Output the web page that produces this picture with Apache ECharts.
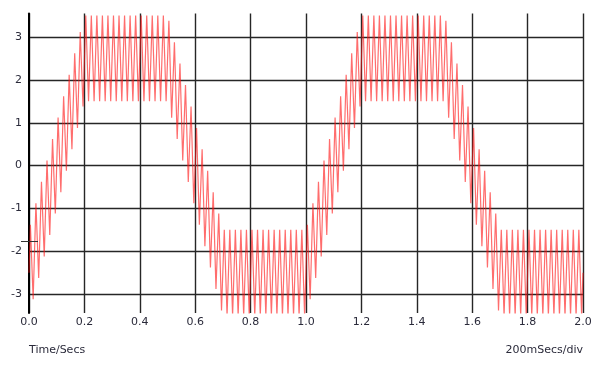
<!DOCTYPE html>
<html><head><meta charset="utf-8">
<script src="https://cdn.jsdelivr.net/npm/echarts@6/dist/echarts.min.js"></script>
<style>html,body{margin:0;padding:0;background:#fff}#c{width:605px;height:371px}</style>
</head><body><div id="c"></div><script>
// Sample instants (s) of the peaks/troughs
const sampleTimes = [
0,
0.005,0.015,0.025,0.035,0.045,0.055,0.065,0.075,0.085,0.095,
0.105,0.115,0.125,0.135,0.145,0.155,0.165,0.175,0.185,0.195,
0.205,0.215,0.225,0.235,0.245,0.255,0.265,0.275,0.285,0.295,
0.305,0.315,0.325,0.335,0.345,0.355,0.365,0.375,0.385,0.395,
0.405,0.415,0.425,0.435,0.445,0.455,0.465,0.475,0.485,0.495,
0.505,0.515,0.525,0.535,0.545,0.555,0.565,0.575,0.585,0.595,
0.605,0.615,0.625,0.635,0.645,0.655,0.665,0.675,0.685,0.695,
0.705,0.715,0.725,0.735,0.745,0.755,0.765,0.775,0.785,0.795,
0.805,0.815,0.825,0.835,0.845,0.855,0.865,0.875,0.885,0.895,
0.905,0.915,0.925,0.935,0.945,0.955,0.965,0.975,0.985,0.995,
1.005,1.015,1.025,1.035,1.045,1.055,1.065,1.075,1.085,1.095,
1.105,1.115,1.125,1.135,1.145,1.155,1.165,1.175,1.185,1.195,
1.205,1.215,1.225,1.235,1.245,1.255,1.265,1.275,1.285,1.295,
1.305,1.315,1.325,1.335,1.345,1.355,1.365,1.375,1.385,1.395,
1.405,1.415,1.425,1.435,1.445,1.455,1.465,1.475,1.485,1.495,
1.505,1.515,1.525,1.535,1.545,1.555,1.565,1.575,1.585,1.595,
1.605,1.615,1.625,1.635,1.645,1.655,1.665,1.675,1.685,1.695,
1.705,1.715,1.725,1.735,1.745,1.755,1.765,1.775,1.785,1.795,
1.805,1.815,1.825,1.835,1.845,1.855,1.865,1.875,1.885,1.895,
1.905,1.915,1.925,1.935,1.945,1.955,1.965,1.975,1.985,1.995,
2.0
];
// Trace values (V) at those instants
const traceValues = [
-2.5,
-1.38,-3.12,-0.88,-2.62,-0.38,-2.12,0.12,-1.62,0.62,-1.12,
1.12,-0.62,1.62,-0.12,2.12,0.38,2.62,0.88,3.12,1.38,
3.5,1.5,3.5,1.5,3.5,1.5,3.5,1.5,3.5,1.5,
3.5,1.5,3.5,1.5,3.5,1.5,3.5,1.5,3.5,1.5,
3.5,1.5,3.5,1.5,3.5,1.5,3.5,1.5,3.5,1.5,
3.38,1.12,2.88,0.62,2.38,0.12,1.88,-0.38,1.38,-0.88,
0.88,-1.38,0.38,-1.88,-0.12,-2.38,-0.62,-2.88,-1.12,-3.38,
-1.5,-3.5,-1.5,-3.5,-1.5,-3.5,-1.5,-3.5,-1.5,-3.5,
-1.5,-3.5,-1.5,-3.5,-1.5,-3.5,-1.5,-3.5,-1.5,-3.5,
-1.5,-3.5,-1.5,-3.5,-1.5,-3.5,-1.5,-3.5,-1.5,-3.5,
-1.38,-3.12,-0.88,-2.62,-0.38,-2.12,0.12,-1.62,0.62,-1.12,
1.12,-0.62,1.62,-0.12,2.12,0.38,2.62,0.88,3.12,1.38,
3.5,1.5,3.5,1.5,3.5,1.5,3.5,1.5,3.5,1.5,
3.5,1.5,3.5,1.5,3.5,1.5,3.5,1.5,3.5,1.5,
3.5,1.5,3.5,1.5,3.5,1.5,3.5,1.5,3.5,1.5,
3.38,1.12,2.88,0.62,2.38,0.12,1.88,-0.38,1.38,-0.88,
0.88,-1.38,0.38,-1.88,-0.12,-2.38,-0.62,-2.88,-1.12,-3.38,
-1.5,-3.5,-1.5,-3.5,-1.5,-3.5,-1.5,-3.5,-1.5,-3.5,
-1.5,-3.5,-1.5,-3.5,-1.5,-3.5,-1.5,-3.5,-1.5,-3.5,
-1.5,-3.5,-1.5,-3.5,-1.5,-3.5,-1.5,-3.5,-1.5,-3.5,
-2.5
];
const xRange = [0, 2.0];
const xStep = 0.2;
const yRange = [-3.44, 3.55];
const triggerLevel = -1.76;
const xAxisTitle = 'Time/Secs';
const timebaseLabel = '200mSecs/div';

const textColor = '#2a2a3a';
const labelFont = {fontFamily: 'DejaVu Sans', fontSize: 11, color: textColor};
const chart = echarts.init(document.getElementById('c'), null, {renderer: 'canvas'});
const seriesData = sampleTimes.map((t, i) => [t, traceValues[i]]);

chart.setOption({
  animation: false,
  backgroundColor: '#fff',
  grid: {left: 29, right: 22, top: 13.5, bottom: 58},
  xAxis: {
    type: 'value', min: xRange[0], max: xRange[1], interval: xStep,
    axisLine: {show: false}, axisTick: {show: false},
    axisLabel: Object.assign({margin: 4, formatter: v => v.toFixed(1)}, labelFont),
    splitLine: {show: true, lineStyle: {color: '#262626', width: 1.4}}
  },
  yAxis: {
    type: 'value', min: yRange[0], max: yRange[1],
    splitNumber: 7,
    axisLine: {show: true, lineStyle: {color: '#000', width: 2}},
    axisTick: {show: false},
    axisLabel: Object.assign({margin: 7, showMinLabel: false, showMaxLabel: false,
      formatter: v => String(Math.round(v))}, labelFont),
    splitLine: {show: true, showMinLine: false, showMaxLine: false,
      lineStyle: {color: '#262626', width: 1.4}}
  },
  series: [{
    type: 'line', data: seriesData, symbol: 'none', clip: true, z: 3,
    lineStyle: {color: 'rgba(255,20,20,0.62)', width: 1.2}
  }]
});

const p = chart.convertToPixel({gridIndex: 0}, [xRange[0], triggerLevel]);
chart.setOption({
  graphic: [
    {type: 'text', left: 29, top: 345, style: {text: xAxisTitle, fill: textColor, font: '11px "DejaVu Sans"'}},
    {type: 'text', right: 22, top: 345, style: {text: timebaseLabel, fill: textColor, font: '11px "DejaVu Sans"'}},
    {type: 'line', shape: {x1: p[0] - 8, y1: Math.round(p[1]) + 0.5, x2: p[0] + 9, y2: Math.round(p[1]) + 0.5},
     style: {stroke: '#333', lineWidth: 1}, z: 10}
  ]
});
</script></body></html>
